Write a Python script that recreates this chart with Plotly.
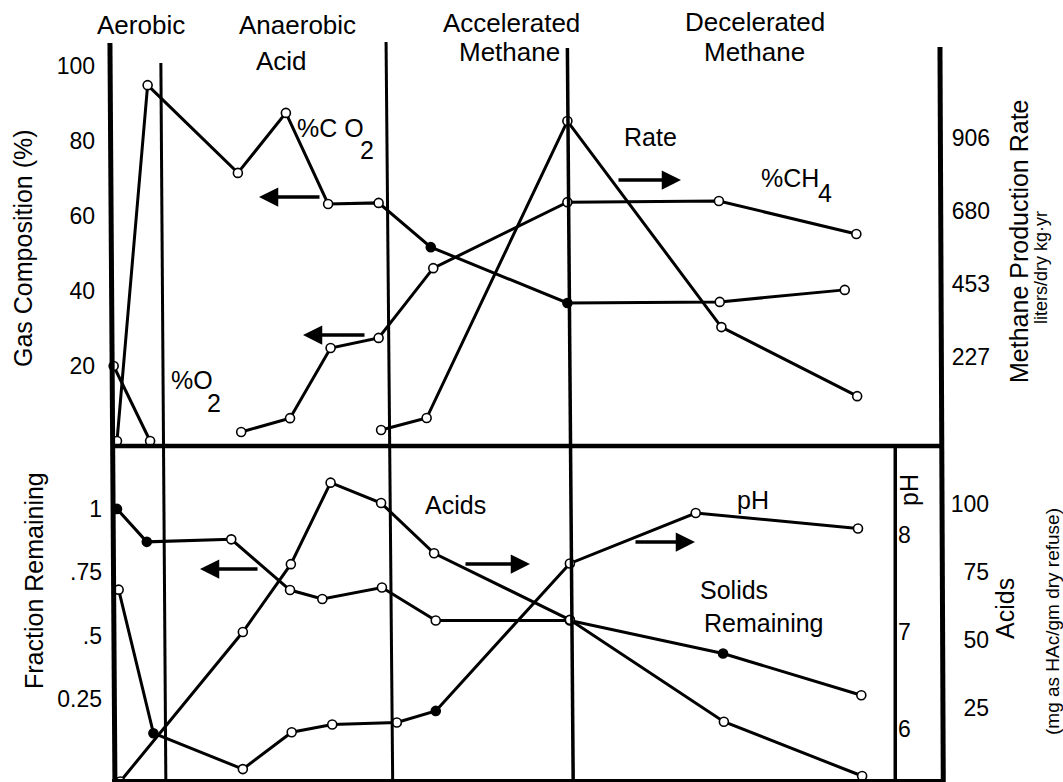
import plotly.graph_objects as go

# ---------------- data ----------------
# time is in arbitrary units (0 = start, 100 = end of record)
time_co2 = [0.6, 4.3, 15.2, 21.0, 26.1, 32.2, 38.5, 55.0, 73.4, 88.5]
co2_pct = [0, 94.9, 71.5, 87.5, 63.2, 63.5, 51.7, 36.8, 37.1, 40.3]

time_ch4 = [15.6, 21.5, 26.4, 32.2, 38.8, 55.0, 73.3, 89.9]
ch4_pct = [2.4, 6.1, 24.8, 27.5, 46.1, 63.7, 64.0, 55.2]

time_o2 = [0.2, 4.6]
o2_pct = [20.0, 0]

time_rate = [32.5, 38.0, 55.0, 73.6, 90.0]
methane_rate = [0, 37, 958, 319, 105]

time_solids = [0.6, 4.2, 14.4, 21.5, 25.4, 32.6, 39.1, 55.3, 73.8, 90.5]
solids_fraction = [1.0, 0.87, 0.88, 0.68, 0.645, 0.69, 0.56, 0.56, 0.43, 0.265]

time_acids = [1.0, 15.8, 21.6, 26.4, 32.5, 38.9, 55.3, 73.9, 90.6]
acids_mg = [-2, 53, 78, 108, 100.5, 82, 57.5, 20, 0]

time_ph = [0.8, 5.0, 15.8, 21.7, 26.6, 34.4, 39.1, 55.3, 70.5, 90.1]
ph_values = [7.44, 5.96, 5.59, 5.97, 6.05, 6.07, 6.19, 7.71, 8.23, 8.07]

gas_ticks = [20, 40, 60, 80, 100]
rate_ticks = [227, 453, 680, 906]
fraction_ticks = [0.25, 0.5, 0.75, 1]
fraction_labels = ["0.25", ".5", ".75", "1"]
ph_ticks = [6, 7, 8]
acid_ticks = [25, 50, 75, 100]

# ---------------- layout helpers ----------------
W, H = 1063, 782
FONT = "Liberation Sans, Arial, Helvetica, sans-serif"


def px(x):
    return x / W


def py(y):
    return 1 - y / H


BLACK = "black"
fig = go.Figure()


def series(t, v, yaxis, filled=()):
    fills = ["black" if i in filled else "white" for i in range(len(t))]
    fig.add_trace(go.Scatter(
        x=t, y=v, yaxis=yaxis, mode="lines+markers",
        line=dict(color=BLACK, width=3),
        marker=dict(symbol="circle", size=9, color=fills,
                    line=dict(color=BLACK, width=1.6)),
        showlegend=False, hoverinfo="skip"))


series(time_o2, o2_pct, "y")
series(time_co2, co2_pct, "y", filled=(6, 7))
series(time_ch4, ch4_pct, "y")
series(time_rate, methane_rate, "y2")
series(time_solids, solids_fraction, "y3", filled=(0, 1, 8))
series(time_acids, acids_mg, "y5")
series(time_ph, ph_values, "y4", filled=(1, 6))

# ---------------- frame: axes and phase boundaries ----------------
shapes = []


def vline(t0, t1, top_px, width):
    shapes.append(dict(type="line", xref="x", yref="paper",
                       x0=t0, x1=t1, y0=py(top_px), y1=py(H),
                       line=dict(color=BLACK, width=width)))


vline(-0.25, 0.35, 43, 5)      # left axis
vline(5.9, 6.5, 63, 3)         # aerobic | anaerobic acid
vline(33.1, 33.9, 42, 3)       # acid | accelerated methane
vline(55.0, 55.7, 48, 3.5)     # accelerated | decelerated
vline(100.0, 100.4, 47, 5)     # right axis
# pH axis inside the lower panel
shapes.append(dict(type="line", xref="x", yref="paper", x0=94.6, x1=94.6,
                   y0=py(446), y1=py(H), line=dict(color=BLACK, width=3.5)))
# divider between the two panels and the bottom border
shapes.append(dict(type="line", xref="x", yref="paper", x0=0, x1=100.3,
                   y0=py(446), y1=py(446), line=dict(color=BLACK, width=4.5)))
shapes.append(dict(type="line", xref="x", yref="paper", x0=0, x1=100.3,
                   y0=py(780.5), y1=py(780.5), line=dict(color=BLACK, width=3)))

# ---------------- text ----------------
ann = []


def text(s, x, y, size=25, xanchor="center", angle=0, align="center"):
    ann.append(dict(text=s, x=px(x), y=py(y), xref="paper", yref="paper",
                    showarrow=False, xanchor=xanchor, yanchor="middle",
                    textangle=angle, align=align,
                    font=dict(family=FONT, size=size, color=BLACK)))


# phase headings
text("Aerobic", 141, 25, 26)
text("Anaerobic", 297, 25, 26)
text("Acid", 281, 61, 26)
text("Accelerated", 511, 23, 26)
text("Methane", 509, 52, 26)
text("Decelerated", 755, 22, 26)
text("Methane", 754, 52, 26)

# series labels
text("%C O", 295, 128, xanchor="left")
text("2", 367, 150)
text("%O", 169, 380, xanchor="left")
text("2", 214, 403)
text("Rate", 650, 137)
text("%CH", 759, 178, xanchor="left")
text("4", 825, 193)
text("Acids", 455, 505)
text("pH", 753, 500)
text("Solids", 698, 590, xanchor="left")
text("Remaining", 702, 623, xanchor="left")

# axis titles
text("Gas Composition (%)", 23, 248, 25, angle=-90)
text("Methane Production Rate", 1019, 241, 25, angle=-90)
text("liters/dry kg\u00b7yr", 1041, 268, 18, angle=-90)
text("Fraction Remaining", 34, 581, 25, angle=-90)
text("pH", 909, 490, 25, angle=-90)
text("Acids", 1005, 609, 25, angle=-90)
text("(mg as HAc/gm dry refuse)", 1052, 622, 19, angle=-90)


def arrow(x_tail, x_head, y):
    ann.append(dict(x=px(x_head), y=py(y), ax=x_tail - x_head, ay=0,
                    xref="paper", yref="paper", axref="pixel", ayref="pixel",
                    text="", showarrow=True, arrowhead=2, arrowsize=1.1,
                    arrowwidth=3.5, arrowcolor=BLACK))


arrow(321, 259, 197)   # %CO2 -> left axis
arrow(366, 303, 335)   # %CH4 -> left axis
arrow(617, 681, 180)   # rate -> right axis
arrow(259, 200, 569)   # solids -> left axis
arrow(464, 530, 564)   # acids -> right axis
arrow(634, 695, 542)   # pH -> pH axis

# ---------------- axes ----------------
tickfont = dict(family=FONT, size=23, color=BLACK)
common = dict(showgrid=False, zeroline=False, showline=False, ticks="",
              domain=[0, 1], tickfont=tickfont, fixedrange=True)

fig.update_layout(
    width=W, height=H,
    margin=dict(l=0, r=0, t=0, b=0),
    paper_bgcolor="white", plot_bgcolor="white",
    showlegend=False,
    shapes=shapes, annotations=ann,
    xaxis=dict(range=[-13.53, 114.86], visible=False, domain=[0, 1],
               fixedrange=True),
    yaxis=dict(range=[-90.93, 117.6], tickvals=gas_ticks, side="left",
               anchor="free", position=px(95), **common),
    yaxis2=dict(range=[-1091.5, 1333.3], tickvals=rate_ticks, side="left",
                anchor="free", position=px(990), overlaying="y", **common),
    yaxis3=dict(range=[-0.0769, 3.0067], tickvals=fraction_ticks,
                ticktext=fraction_labels, side="left", anchor="free",
                position=px(102), overlaying="y", **common),
    yaxis4=dict(range=[5.457, 13.519], tickvals=ph_ticks, side="right",
                anchor="free", position=px(897), overlaying="y", **common),
    yaxis5=dict(range=[-2.209, 285.71], tickvals=acid_ticks, side="left",
                anchor="free", position=px(989), overlaying="y", **common),
)

fig.write_html("out.html")
